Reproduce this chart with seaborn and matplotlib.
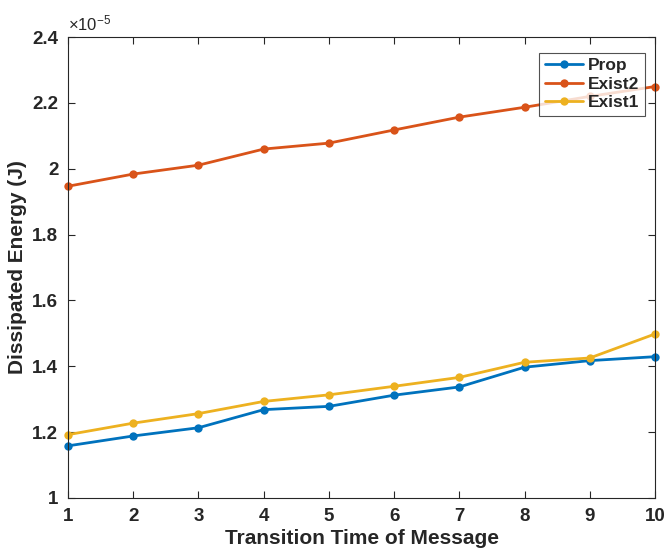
import matplotlib
matplotlib.use('Agg')
import matplotlib.pyplot as plt
import matplotlib.ticker as mticker
import pandas as pd
import seaborn as sns

# Data (energy in units of 1e-5 J)
steps = [1, 2, 3, 4, 5, 6, 7, 8, 9, 10]
prop = [1.158, 1.188, 1.213, 1.268, 1.278, 1.312, 1.337, 1.397, 1.417, 1.429]
exist2 = [1.947, 1.984, 2.011, 2.060, 2.078, 2.118, 2.157, 2.187, 2.220, 2.250]
exist1 = [1.192, 1.227, 1.256, 1.293, 1.313, 1.339, 1.366, 1.412, 1.425, 1.498]

series = {'Prop': prop, 'Exist2': exist2, 'Exist1': exist1}
colors = {'Prop': '#0072BD', 'Exist2': '#D95319', 'Exist1': '#EDB120'}

df = pd.DataFrame([(s, x, v) for s, vals in series.items() for x, v in zip(steps, vals)],
                  columns=['series', 'step', 'energy'])

sns.set_style('ticks')
plt.rcParams['font.family'] = ['Liberation Sans', 'DejaVu Sans']
plt.rcParams['mathtext.default'] = 'regular'

fig = plt.figure(figsize=(6.67, 5.55), dpi=100)
ax = fig.add_axes([0.102, 0.103, 0.880, 0.830])

sns.lineplot(data=df, x='step', y='energy', hue='series', palette=colors,
             marker='o', markersize=6, markeredgewidth=0, linewidth=2,
             ax=ax, clip_on=False)

ax.set_xlim(1, 10)
ax.set_ylim(1, 2.4)
ax.set_xticks(steps)
ax.set_yticks([1, 1.2, 1.4, 1.6, 1.8, 2.0, 2.2, 2.4])
ax.yaxis.set_major_formatter(mticker.FormatStrFormatter('%g'))
ax.tick_params(direction='in', top=True, right=True, labelsize=13.5, length=5,
               color='#262626', width=0.8, pad=7)
for lbl in ax.get_xticklabels() + ax.get_yticklabels():
    lbl.set_fontweight('bold')
    lbl.set_color('#262626')
for sp in ax.spines.values():
    sp.set_color('#262626')
    sp.set_linewidth(0.8)

ax.set_xlabel('Transition Time of Message', fontsize=15, fontweight='bold',
              color='#262626', labelpad=3)
ax.set_ylabel('Dissipated Energy (J)', fontsize=15, fontweight='bold',
              color='#262626', labelpad=4)
ax.text(0.0, 1.008, r'$\times10^{-5}$', transform=ax.transAxes, fontsize=12,
        ha='left', va='bottom', color='#262626')

leg = ax.legend(loc='upper right', bbox_to_anchor=(0.997, 0.985), fontsize=12.5,
                frameon=True, fancybox=False, edgecolor='#262626',
                handlelength=2.2, borderpad=0.3, labelspacing=0.2,
                handletextpad=0.3)
leg.get_frame().set_linewidth(0.8)
for t in leg.get_texts():
    t.set_fontweight('bold')

fig.savefig('out.png', dpi=100)
